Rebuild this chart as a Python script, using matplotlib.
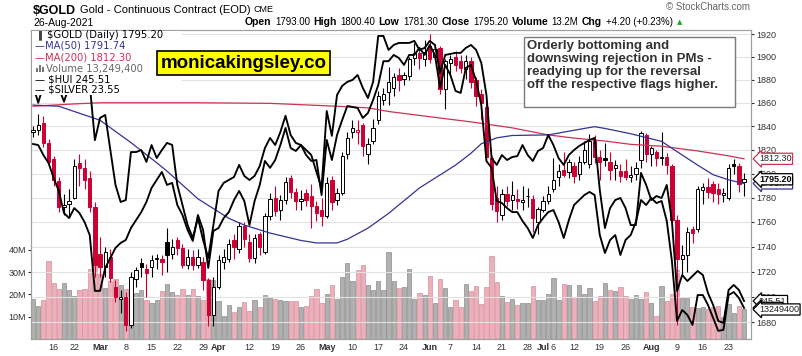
import numpy as np
import pandas as pd
import matplotlib
matplotlib.use('Agg')
import matplotlib.pyplot as plt
import matplotlib.transforms as mtransforms
from matplotlib.patches import Rectangle
from matplotlib.ticker import FixedLocator, NullLocator, FuncFormatter

plt.rcParams['font.family'] = ['Liberation Sans', 'DejaVu Sans']

# trading days shown on the chart
holidays = ['2021-02-15', '2021-04-02', '2021-05-31', '2021-07-05']
dates = pd.bdate_range('2021-02-09', '2021-08-26', freq='C', holidays=holidays)

opens = [1835, 1837, 1843, 1826, 1812, 1794, 1772, 1775, 1780, 1809, 1805, 1796, 1772,
         1734, 1724, 1732, 1708, 1698, 1700, 1678, 1714, 1727, 1722, 1724, 1730, 1730, 1744, 1734,
         1745, 1739, 1725, 1732, 1725, 1728, 1713, 1686,
         1708, 1728, 1730, 1745, 1738, 1757, 1744, 1731, 1750, 1736, 1765, 1780, 1770, 1778, 1796,
         1785, 1777, 1784, 1781, 1773, 1770,
         1765, 1795, 1778, 1784, 1816, 1835, 1835, 1841, 1816, 1827, 1845, 1862, 1869, 1873, 1884,
         1881, 1883, 1899, 1903, 1898,
         1910, 1900, 1908, 1872, 1895, 1900, 1896, 1889, 1896, 1880, 1868, 1856, 1813, 1780, 1766,
         1783, 1778, 1779, 1776, 1781, 1779, 1760,
         1770, 1777, 1787, 1797, 1803, 1801, 1806, 1800, 1810, 1808, 1828, 1814, 1813, 1810, 1805,
         1802, 1802, 1797, 1800, 1811, 1832,
         1816, 1818, 1813, 1814, 1806, 1762, 1730, 1733, 1754, 1754, 1786, 1789, 1791, 1787, 1782,
         1780, 1808, 1806, 1793]
highs = [1840, 1850, 1849, 1829, 1815, 1797, 1783, 1787, 1812, 1816, 1812, 1802, 1776,
         1748, 1740, 1738, 1713, 1705, 1704, 1720, 1724, 1731, 1726, 1733, 1734, 1733, 1755, 1746,
         1748, 1742, 1738, 1737, 1738, 1732, 1715, 1716,
         1733, 1738, 1746, 1750, 1760, 1760, 1750, 1750, 1752, 1767, 1784, 1790, 1782, 1797, 1799,
         1788, 1786, 1787, 1791, 1777, 1780,
         1797, 1798, 1788, 1818, 1835, 1845, 1845, 1843, 1830, 1846, 1870, 1873, 1891, 1886, 1890,
         1887, 1900, 1912, 1906, 1915,
         1920, 1911, 1910, 1898, 1902, 1905, 1902, 1902, 1900, 1882, 1872, 1862, 1815, 1790, 1787,
         1790, 1794, 1787, 1790, 1788, 1782, 1772,
         1781, 1790, 1813, 1808, 1818, 1812, 1810, 1815, 1827, 1833, 1832, 1820, 1826, 1818, 1811,
         1808, 1812, 1806, 1810, 1836, 1834,
         1823, 1820, 1835, 1817, 1808, 1766, 1741, 1756, 1757, 1790, 1792, 1796, 1794, 1792, 1788,
         1808, 1812, 1809, 1800.4]
lows = [1831, 1832, 1822, 1806, 1790, 1768, 1766, 1765, 1779, 1790, 1787, 1768, 1716,
        1716, 1716, 1712, 1696, 1687, 1673, 1676, 1708, 1716, 1700, 1716, 1722, 1717, 1720, 1730,
        1733, 1723, 1722, 1721, 1723, 1705, 1677, 1677,
        1706, 1722, 1728, 1730, 1735, 1740, 1728, 1727, 1733, 1734, 1762, 1765, 1762, 1775, 1780,
        1770, 1770, 1773, 1755, 1761, 1757,
        1763, 1770, 1774, 1782, 1812, 1830, 1825, 1815, 1808, 1825, 1842, 1858, 1858, 1866, 1870,
        1875, 1880, 1893, 1889, 1892,
        1895, 1897, 1868, 1855, 1885, 1888, 1886, 1881, 1873, 1857, 1846, 1810, 1770, 1760, 1762,
        1773, 1770, 1771, 1770, 1772, 1752, 1750,
        1768, 1775, 1785, 1790, 1797, 1796, 1792, 1795, 1808, 1805, 1809, 1795, 1806, 1795, 1795,
        1793, 1795, 1793, 1795, 1805, 1810,
        1806, 1806, 1807, 1800, 1758, 1678, 1718, 1720, 1743, 1752, 1775, 1780, 1776, 1775, 1776,
        1778, 1800, 1785, 1781.3]
closes = [1837, 1841, 1826, 1810, 1795, 1772, 1774, 1777, 1806, 1805, 1795, 1772, 1725,
          1724, 1736, 1715, 1700, 1700, 1678, 1716, 1721, 1724, 1719, 1729, 1731, 1728, 1733, 1740,
          1739, 1725, 1732, 1725, 1732, 1713, 1686, 1708,
          1729, 1732, 1742, 1740, 1757, 1746, 1731, 1747, 1740, 1765, 1779, 1769, 1778, 1793, 1785,
          1777, 1779, 1778, 1773, 1767, 1765,
          1792, 1776, 1784, 1815, 1830, 1838, 1837, 1823, 1825, 1838, 1866, 1868, 1878, 1882, 1880,
          1884, 1898, 1903, 1899, 1904,
          1898, 1907, 1872, 1896, 1898, 1893, 1890, 1896, 1878, 1866, 1860, 1814, 1775, 1769, 1783,
          1777, 1782, 1777, 1778, 1781, 1763, 1771,
          1777, 1783, 1795, 1802, 1799, 1810, 1798, 1810, 1820, 1827, 1814, 1810, 1811, 1803, 1807,
          1798, 1797, 1799, 1805, 1834, 1816,
          1821, 1813, 1814, 1807, 1762, 1730, 1733, 1752, 1751, 1787, 1789, 1785, 1784, 1783, 1784,
          1805, 1806, 1791, 1795.2]

# volume in millions
volumes = [17.8, 14.8, 17.4, 35.0, 25.3, 22.4, 25.3, 22.0, 19.3, 22.1, 22.5, 31.2, 36.0,
           29.0, 23.0, 26.0, 27.0, 24.0, 22.3, 23.3, 20.6, 21.8, 17.5, 16.3, 17.5, 21.5, 24.7, 21.2,
           19.7, 22.3, 19.7, 22.3, 19.3, 17.5, 26.7, 26.4,
           17.0, 10.3, 15.3, 12.3, 14.2, 16.7, 12.7, 17.5, 14.5, 19.7, 18.2, 17.8, 17.5, 17.2, 17.0,
           17.0, 14.2, 14.8, 19.3, 22.3, 16.0,
           20.0, 24.0, 18.0, 28.0, 34.0, 26.0, 31.0, 33.0, 24.0, 22.0, 26.0, 22.0, 39.0, 26.0, 23.0,
           23.2, 31.2, 17.8, 20.5, 19.7,
           28.4, 16.3, 26.9, 22.7, 14.5, 17.5, 14.2, 24.7, 21.5, 23.8, 15.7, 23.2, 37.2, 25.7, 19.3,
           16.7, 17.8, 15.3, 16.3, 16.3, 23.8, 17.5,
           17.5, 20.4, 27.5, 17.5, 24.7, 24.2, 18.7, 24.2, 20.2, 22.7, 17.2, 19.3, 25.2, 22.0, 21.7,
           23.2, 19.3, 17.8, 19.7, 17.8, 20.9,
           16.0, 10.3, 23.8, 17.0, 20.0, 31.0, 18.2, 18.2, 14.2, 13.7, 14.5, 13.4, 14.2, 14.8, 9.7,
           15.7, 11.8, 14.8, 13.2494]

# $HUI and $SILVER overlays, read as levels on the price scale
hui_level = [1875, 1860, 1875, 1878, 1876, 1873, 1861, 1874, 1876, 1880, 1878, 1876, 1828,
             1847, 1849.5, 1820, 1790.5, 1776.4, 1778, 1818, 1818, 1819.7, 1809.7, 1823.9, 1813,
             1819.7, 1825.7, 1824, 1790.5, 1773.9, 1757.5, 1747, 1763.2, 1745.4, 1730.9, 1757.5,
             1785.5, 1792.2, 1794.6, 1797.1, 1807.2, 1798, 1794.6, 1798, 1806.3, 1821.4, 1829.9,
             1823.9, 1834.9, 1848.8, 1832.4, 1825.7, 1823.9, 1819.7, 1815.5, 1801.3, 1788,
             1852.9, 1831.7, 1866.7, 1874.6, 1878.1, 1879.8, 1884.1, 1872.9, 1864.1, 1878.1,
             1918.5, 1918.5, 1906.1, 1910.5, 1912.3, 1912.3, 1912.3, 1914.1, 1906.1, 1907.9,
             1914.1, 1910.5, 1885.9, 1901.7, 1902.6, 1903.5, 1903.5, 1907.9, 1910.5, 1906.1,
             1894.7, 1866.7, 1812.9, 1807.2, 1815.5, 1811.3, 1813.8, 1814.6, 1823.9, 1815.5,
             1810.5, 1818.9,
             1821.4, 1832.4, 1823.9, 1812.9, 1807.2, 1815.5, 1819.7, 1823.1, 1825.7, 1828.2,
             1829.9, 1786.3, 1755.1, 1771.4, 1778, 1779.7, 1771.4, 1757.5, 1757.5, 1800.5, 1790.5,
             1778, 1781.3, 1779.7, 1790.5, 1760.8, 1704.6, 1717.3, 1712.5, 1716.5, 1720.5, 1717.3,
             1703, 1693.6, 1681.1, 1679.6, 1705.4, 1709.4, 1705.4, 1696.7]
silver_level = [1824.8, 1823.9, 1815.5, 1808.8, 1796.3, 1785.5, 1767.3, 1763.2, 1771.4, 1767.3,
                1759.9, 1749.4, 1704.7,
                1704.7, 1722.9, 1730.9, 1739, 1743, 1745.4, 1755.1, 1761.6, 1768.1, 1776.4, 1788,
                1794.7, 1801.3, 1790.5, 1792.2, 1773.9, 1765.7, 1753.5, 1744.6, 1765.7, 1753.5,
                1722.9, 1752.7,
                1755.1, 1763.2, 1768.1, 1778, 1785.5, 1777.2, 1757.5, 1777.2, 1790.5, 1810.5, 1804.7,
                1811.3, 1823.9, 1838.4, 1821.4, 1818.9, 1823.9, 1815.5, 1810.5, 1811.3, 1782.1,
                1828.2, 1811.3, 1832.4, 1845.2, 1857.2, 1856.4, 1855.5, 1846.9, 1851.2, 1862.4,
                1875.4, 1896.2, 1896.2, 1901.7, 1899, 1892.9, 1901.7, 1901.7, 1907.9, 1901.7,
                1910.5, 1901.7, 1872.9, 1892.9, 1884.1, 1870.2, 1868.5, 1890.3, 1892.9, 1879,
                1858.1, 1810.5, 1804.7, 1777.2, 1775.5, 1771.4, 1768.1, 1768.1, 1760.8, 1755.1,
                1747, 1757.5,
                1763.2, 1768.1, 1769.8, 1760, 1747, 1761.6, 1773.9, 1778, 1782.1, 1784.7, 1782.1,
                1749.4, 1734.9, 1745.4, 1749.4, 1733.3, 1745.4, 1749.4, 1760, 1778, 1773.9,
                1779.7, 1775.5, 1777.2, 1760.8, 1728.5, 1681.1, 1689.7, 1685.8, 1678, 1701.4,
                1701.4, 1693.6, 1683.5, 1673.4, 1674.2, 1701.4, 1703.8, 1699.1, 1691.3]
hui_last = 245.51
silver_last = 23.55

ma50_dates = ['2021-02-09', '2021-02-17', '2021-02-23', '2021-03-01', '2021-03-09', '2021-03-16',
              '2021-03-18', '2021-03-26', '2021-04-06', '2021-04-09', '2021-04-16', '2021-04-26',
              '2021-04-29', '2021-05-05', '2021-05-07', '2021-05-13', '2021-05-19', '2021-05-27',
              '2021-06-08', '2021-06-11', '2021-06-15', '2021-06-18', '2021-06-23', '2021-07-02',
              '2021-07-14', '2021-07-16', '2021-07-20', '2021-07-27', '2021-08-04', '2021-08-10',
              '2021-08-13', '2021-08-18', '2021-08-23', '2021-08-26']
ma50_vals = [1858, 1857, 1851, 1845, 1826, 1809, 1802, 1779, 1763, 1757.5, 1751, 1745, 1743, 1743,
             1746, 1755, 1767, 1788, 1807, 1817, 1825, 1830, 1832, 1832.5, 1838, 1839.5, 1838,
             1833.5, 1827, 1815.5, 1807, 1799, 1794.7, 1791.74]
ma200_dates = ['2021-02-09', '2021-02-22', '2021-03-01', '2021-03-26', '2021-04-16', '2021-05-05',
               '2021-05-13', '2021-05-19', '2021-06-01', '2021-06-11', '2021-06-23', '2021-07-02',
               '2021-07-12', '2021-07-20', '2021-07-27', '2021-08-04', '2021-08-13', '2021-08-23',
               '2021-08-26']
ma200_vals = [1857, 1859, 1860, 1860, 1859.5, 1857, 1855.6, 1852.5, 1848, 1843.6, 1838.5, 1832.5,
              1829.8, 1827.3, 1824.5, 1822.9, 1818.9, 1814.8, 1812.3]

tick_dates = ['2021-02-16', '2021-02-22', '2021-03-01', '2021-03-08', '2021-03-15', '2021-03-22',
              '2021-03-29', '2021-04-01', '2021-04-12', '2021-04-19', '2021-04-26', '2021-05-03',
              '2021-05-10', '2021-05-17', '2021-05-24', '2021-06-01', '2021-06-07', '2021-06-14',
              '2021-06-21', '2021-06-28', '2021-07-01', '2021-07-06', '2021-07-12', '2021-07-19',
              '2021-07-26', '2021-08-02', '2021-08-09', '2021-08-16', '2021-08-23']
tick_labels = ['16', '22', 'Mar', '8', '15', '22', '29', 'Apr', '12', '19', '26', 'May', '10', '17',
               '24', 'Jun', '7', '14', '21', '28', 'Jul', '6', '12', '19', '26', 'Aug', '9', '16', '23']
price_ticks = list(range(1680, 1921, 20))
vol_ticks = [10, 20, 30, 40]

note = ("Orderly bottoming and\ndownswing rejection in PMs -\n"
        "readying up for the reversal\noff the respective flags higher.")

# ---------------------------------------------------------------
W, H = 803, 356
L, R, T, B = 31, 751, 30, 339
fig = plt.figure(figsize=(W / 100, H / 100), dpi=100)
axv = fig.add_axes([L / W, 1 - B / H, (R - L) / W, (B - T) / H])
ax = axv.twinx()

x = np.arange(len(dates))
o = np.array(opens, dtype=float)
h = np.array(highs, dtype=float)
lo = np.array(lows, dtype=float)
c = np.array(closes, dtype=float)
prev = np.r_[c[0], c[:-1]]
down = c < prev

RED = '#cc0033'
MA50_C = '#333399'
MA200_C = '#cc3355'

# volume
vface = ['#ebb0ba' if d else '#b0b0b0' for d in down]
vedge = ['#d98d9b' if d else '#8c8c8c' for d in down]
axv.bar(x, volumes, width=0.82, color=vface, edgecolor=vedge, linewidth=0.5)
axv.set_ylim(0, 138.6)
axv.set_yticks(vol_ticks)
axv.set_yticklabels([f'{v}M' for v in vol_ticks])
axv.tick_params(axis='y', labelsize=6.5, length=2, pad=1.5, colors='#333333')

# price
ax.set_yscale('log')
ax.set_ylim(1667.1, 1923.8)
ax.yaxis.set_major_locator(FixedLocator(price_ticks))
ax.yaxis.set_minor_locator(NullLocator())
ax.yaxis.set_major_formatter(FuncFormatter(lambda v, p: f'{v:.0f}'))
ax.tick_params(axis='y', labelsize=6.5, length=2, pad=2, colors='#333333')
ax.set_xlim(-0.4, 139.35)

tick_idx = dates.get_indexer(pd.to_datetime(tick_dates))
axv.set_xticks(tick_idx)
axv.set_xticklabels(tick_labels)
axv.tick_params(axis='x', labelsize=6.5, length=0, pad=3, colors='#333333')
for lab in axv.get_xticklabels():
    if lab.get_text().isalpha():
        lab.set_fontweight('bold')

ax.grid(True, axis='both', color='#e2e2e2', linewidth=0.8)
ax.set_axisbelow(True)
for a in (ax, axv):
    for sp in a.spines.values():
        sp.set_color('#a0a0a0')
        sp.set_linewidth(0.8)

# candles
ccol = [RED if d else 'black' for d in down]
face = ['white' if cc >= oo else col for cc, oo, col in zip(c, o, ccol)]
ax.vlines(x, lo, h, colors=ccol, linewidth=0.8, zorder=3)
ax.bar(x, np.maximum(np.abs(c - o), 0.7), bottom=np.minimum(o, c), width=0.64,
       color=face, edgecolor=ccol, linewidth=0.7, zorder=4)

# moving averages and overlays
ax.plot(dates.get_indexer(pd.to_datetime(ma200_dates)), ma200_vals, color=MA200_C, lw=0.9, zorder=5)
ax.plot(dates.get_indexer(pd.to_datetime(ma50_dates)), ma50_vals, color=MA50_C, lw=0.9, zorder=5)
ax.plot(x, hui_level, color='black', lw=1.35, zorder=6)
ax.plot(x, silver_level, color='black', lw=1.35, zorder=6)

# right-hand value tags
tr = mtransforms.blended_transform_factory(ax.transAxes, ax.transData)
trv = mtransforms.blended_transform_factory(axv.transAxes, axv.transData)
tx = 1 + 8 / (R - L)


def tag(axis_tr, y, s, ec, bold=False, color='#222222'):
    ax.text(tx, y, s, transform=axis_tr, fontsize=6.5, va='center', ha='left', color=color,
            fontweight='bold' if bold else 'normal', clip_on=False, zorder=10,
            bbox=dict(boxstyle='larrow,pad=0.12', fc='white', ec=ec, lw=0.9))


tag(tr, hui_level[-1], f'{hui_last:.2f}', 'black')
tag(tr, silver_level[-1], f'{silver_last:.2f}', 'black')
tag(trv, volumes[-1], f'{volumes[-1] * 1e6:.0f}', 'black')
tag(tr, ma200_vals[-1], f'{ma200_vals[-1]:.2f}', MA200_C)
tag(tr, ma50_vals[-1], f'{ma50_vals[-1]:.2f}', MA50_C)
tag(tr, c[-1], f'{c[-1]:.2f}', 'black', bold=True, color='black')

# legend block inside the plot
fig.patches.append(Rectangle((32 / W, 1 - 95 / H), 150 / W, 64 / H, transform=fig.transFigure,
                             fc='white', ec='none', zorder=1))
lg = dict(fontsize=7.2, family='DejaVu Sans', va='center', ha='left', zorder=3)
fig.text(36 / W, 1 - 35 / H, '\u2590', color='#444444', fontsize=6, va='center', ha='left')
fig.text(47 / W, 1 - 35 / H, f'$GOLD (Daily) {c[-1]:.2f}', color='black', **lg)
fig.text(35 / W, 1 - 46 / H, f'\u2014MA(50) {ma50_vals[-1]:.2f}', color=MA50_C, **lg)
fig.text(35 / W, 1 - 57 / H, f'\u2014MA(200) {ma200_vals[-1]:.2f}', color=MA200_C, **lg)
for k, hh in enumerate([4, 7, 5]):
    fig.patches.append(Rectangle(((36 + 3 * k) / W, 1 - 72 / H), 2 / W, hh / H,
                                 transform=fig.transFigure, fc='#777777', ec='none', zorder=2))
fig.text(46 / W, 1 - 69 / H, f'Volume {volumes[-1] * 1e6:,.0f}', color='#666666', **lg)
fig.text(35 / W, 1 - 80 / H, f'\u2014 $HUI {hui_last:.2f}', color='black', **lg)
fig.text(35 / W, 1 - 90 / H, f'\u2014 $SILVER {silver_last:.2f}', color='black', **lg)

# yellow watermark and comment box
fig.text(243.5 / W, 1 - 63 / H, 'monicakingsley.co', ha='center', va='center', fontsize=13.5,
         fontweight='bold', color='black', zorder=4,
         bbox=dict(boxstyle='square,pad=0.2', fc='#ffff00', ec='black', lw=1.2))
fig.patches.append(Rectangle((524 / W, 1 - 107 / H), 211 / W, 70 / H, transform=fig.transFigure,
                             fc='white', ec='#7a7a7a', lw=1.0, zorder=1))
fig.text(527 / W, 1 - 40 / H, note, va='top', ha='left', fontsize=9.5, fontweight='bold',
         color='#333333', linespacing=1.1, zorder=4)

# header
fig.text(33 / W, 1 - 11 / H, '$GOLD', fontsize=9, fontweight='bold', va='center', ha='left')
fig.text(80 / W, 1 - 10 / H, 'Gold - Continuous Contract (EOD)', fontsize=8, va='center', ha='left')
fig.text(254 / W, 1 - 10 / H, 'CME', fontsize=6.5, va='center', ha='left')
fig.text(33 / W, 1 - 23 / H, dates[-1].strftime('%d-%b-%Y'), fontsize=7.5, va='center', ha='left')
fig.text(750 / W, 1 - 7 / H, '\u00a9 StockCharts.com', fontsize=7, color='#666666', va='center',
         ha='right')

chg = c[-1] - c[-2]
pieces = [('Open', True), (f'{o[-1]:.2f}', False), ('High', True), (f'{h[-1]:.2f}', False),
          ('Low', True), (f'{lo[-1]:.2f}', False), ('Close', True), (f'{c[-1]:.2f}', False),
          ('Volume', True), (f'{volumes[-1]:.1f}M', False), ('Chg', True),
          (f'+{chg:.2f} (+{chg / c[-2] * 100:.2f}%)', False)]
renderer = fig.canvas.get_renderer()
xp = 245
for s, bold in pieces:
    t = fig.text(xp / W, 1 - 22 / H, s, fontsize=7.5 if bold else 7,
                 fontweight='bold' if bold else 'normal', va='center', ha='left')
    xp += t.get_window_extent(renderer).width + 3.5
fig.text((xp + 1) / W, 1 - 22 / H, '\u25b2', fontsize=5, color='#22aa22', va='center', ha='left',
         family='DejaVu Sans')

fig.savefig('out.png', dpi=100)
